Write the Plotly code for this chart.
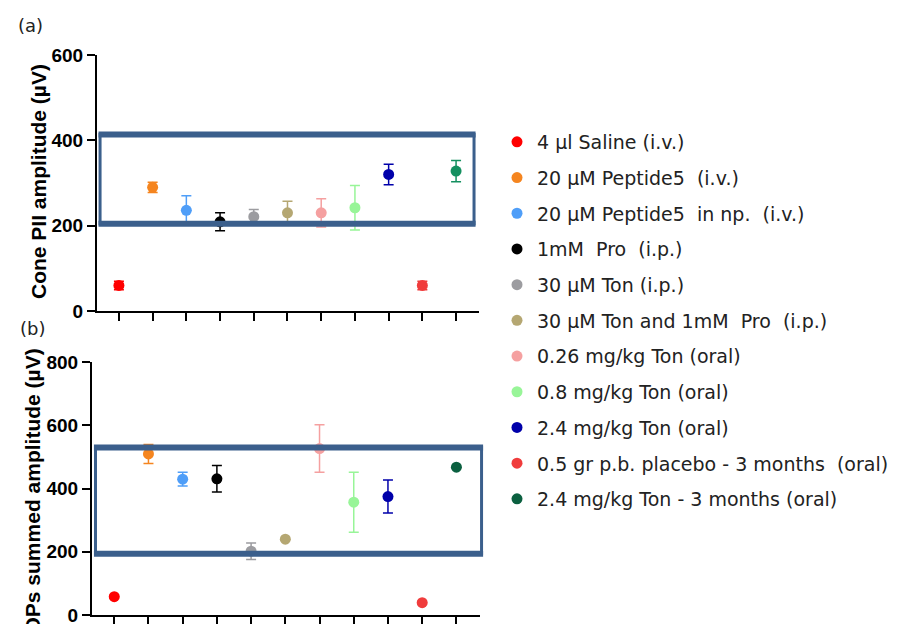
import plotly.graph_objects as go

# ---------------- data ----------------
groups = [
    "4 µl Saline (i.v.)",
    "20 µM Peptide5  (i.v.)",
    "20 µM Peptide5  in np.  (i.v.)",
    "1mM  Pro  (i.p.)",
    "30 µM Ton (i.p.)",
    "30 µM Ton and 1mM  Pro  (i.p.)",
    "0.26 mg/kg Ton (oral)",
    "0.8 mg/kg Ton (oral)",
    "2.4 mg/kg Ton (oral)",
    "0.5 gr p.b. placebo - 3 months  (oral)",
    "2.4 mg/kg Ton - 3 months (oral)",
]
positions = [1, 2, 3, 4, 5, 6, 7, 8, 9, 10, 11]

cone_mean = [60, 290, 236, 209, 221, 230, 230, 242, 320, 60, 328]
cone_err = [10, 12, 34, 21, 17, 27, 33, 52, 24, 10, 25]

ops_mean = [58, 510, 430, 431, 202, 240, 527, 357, 375, 39, 468]
ops_err = [0, 30, 22, 42, 26, 0, 75, 95, 52, 0, 0]

colors_b = ["#ff0000", "#f5851f", "#4f9ef8", "#000000", "#9c9ca0", "#b5a772",
            "#f5a0a0", "#98f598", "#0000aa", "#f03c3c", "#0b6040"]
colors_a = ["#ff0000", "#f5851f", "#4f9ef8", "#000000", "#9c9ca0", "#b5a772",
            "#f5a0a0", "#98f598", "#0000aa", "#f03c3c", "#149060"]

band_a = (204.6, 413.7)   # normal range band, panel (a)
band_b = (194, 530)       # normal range band, panel (b)

W, H = 900, 624
OFF = 8  # page body margin
def px(x): return (x - OFF) / W
def py(y): return 1 - (y - OFF) / H

fig = go.Figure()

for i, g in enumerate(groups):
    fig.add_trace(go.Scatter(
        x=[positions[i]], y=[cone_mean[i]], mode="markers",
        marker=dict(color=colors_a[i], size=11),
        error_y=dict(type="data", array=[cone_err[i]], color=colors_a[i],
                     thickness=1.5, width=5),
        xaxis="x", yaxis="y", showlegend=False, name=g))
for i, g in enumerate(groups):
    fig.add_trace(go.Scatter(
        x=[positions[i]], y=[ops_mean[i]], mode="markers",
        marker=dict(color=colors_b[i], size=11),
        error_y=dict(type="data", array=[ops_err[i]], color=colors_b[i],
                     thickness=1.5, width=5),
        xaxis="x2", yaxis="y2", showlegend=True, name=g, legendgroup=g))

axis_common = dict(showgrid=False, zeroline=False, showline=True, linecolor="black",
                   linewidth=2, ticks="outside", ticklen=8, tickwidth=2, tickcolor="black",
                   automargin=False)
tickfont = dict(family="Liberation Sans", size=19, color="black", weight="bold")

fig.update_layout(
    template="none",
    width=W, height=H, margin=dict(l=0, r=0, t=0, b=0, pad=0, autoexpand=False),
    plot_bgcolor="white", paper_bgcolor="white",
    xaxis=dict(domain=[px(97), px(479)], range=[0.35, 11.68], anchor="y",
               tickvals=positions, showticklabels=False, **axis_common),
    yaxis=dict(domain=[py(311), py(55)], range=[0, 600], anchor="x",
               tickvals=[0, 200, 400, 600], tickfont=tickfont, **axis_common),
    xaxis2=dict(domain=[px(92), px(480)], range=[0.35, 11.69], anchor="y2",
                tickvals=positions, showticklabels=False, **axis_common),
    yaxis2=dict(domain=[py(615), py(362.3)], range=[0, 800], anchor="x2",
                tickvals=[0, 200, 400, 600, 800], tickfont=tickfont, **axis_common),
    legend=dict(x=px(497), y=py(123), xanchor="left", yanchor="top",
                font=dict(family="DejaVu Sans", size=19, color="#222222"),
                tracegroupgap=8, bgcolor="rgba(0,0,0,0)", borderwidth=0),
)

box_col = "#3b5f8c"
# panel a band
fig.add_shape(type="rect", xref="x domain", yref="y", x0=0.008, x1=0.987,
              y0=band_a[0], y1=band_a[1], line=dict(color=box_col, width=3), layer="above")
for yv in band_a:
    fig.add_shape(type="line", xref="x domain", yref="y", x0=0.004, x1=0.991,
                  y0=yv, y1=yv, line=dict(color=box_col, width=6), layer="above")
# panel b band
fig.add_shape(type="rect", xref="x2 domain", yref="y2", x0=0.009, x1=1.004,
              y0=band_b[0], y1=band_b[1], line=dict(color=box_col, width=3), layer="above")
for yv in band_b:
    fig.add_shape(type="line", xref="x2 domain", yref="y2", x0=0.005, x1=1.008,
                  y0=yv, y1=yv, line=dict(color=box_col, width=6), layer="above")

title_font = dict(family="Liberation Sans", size=21, color="black", weight="bold")
fig.add_annotation(text="Cone PII amplitude (µV)", xref="paper", yref="paper",
                   x=px(38), y=py(182), textangle=-90, showarrow=False,
                   font=title_font, xanchor="center", yanchor="middle")
fig.add_annotation(text="OPs summed amplitude (µV)", xref="paper", yref="paper",
                   x=px(32), y=py(347), textangle=-90, showarrow=False,
                   font=title_font, xanchor="center", yanchor="top")
label_font = dict(family="DejaVu Sans", size=18, color="#222")
fig.add_annotation(text="(a)", xref="paper", yref="paper", x=px(30), y=py(25),
                   showarrow=False, font=label_font, xanchor="center", yanchor="middle")
fig.add_annotation(text="(b)", xref="paper", yref="paper", x=px(32), y=py(329),
                   showarrow=False, font=label_font, xanchor="center", yanchor="middle")

fig.write_html("out.html")
